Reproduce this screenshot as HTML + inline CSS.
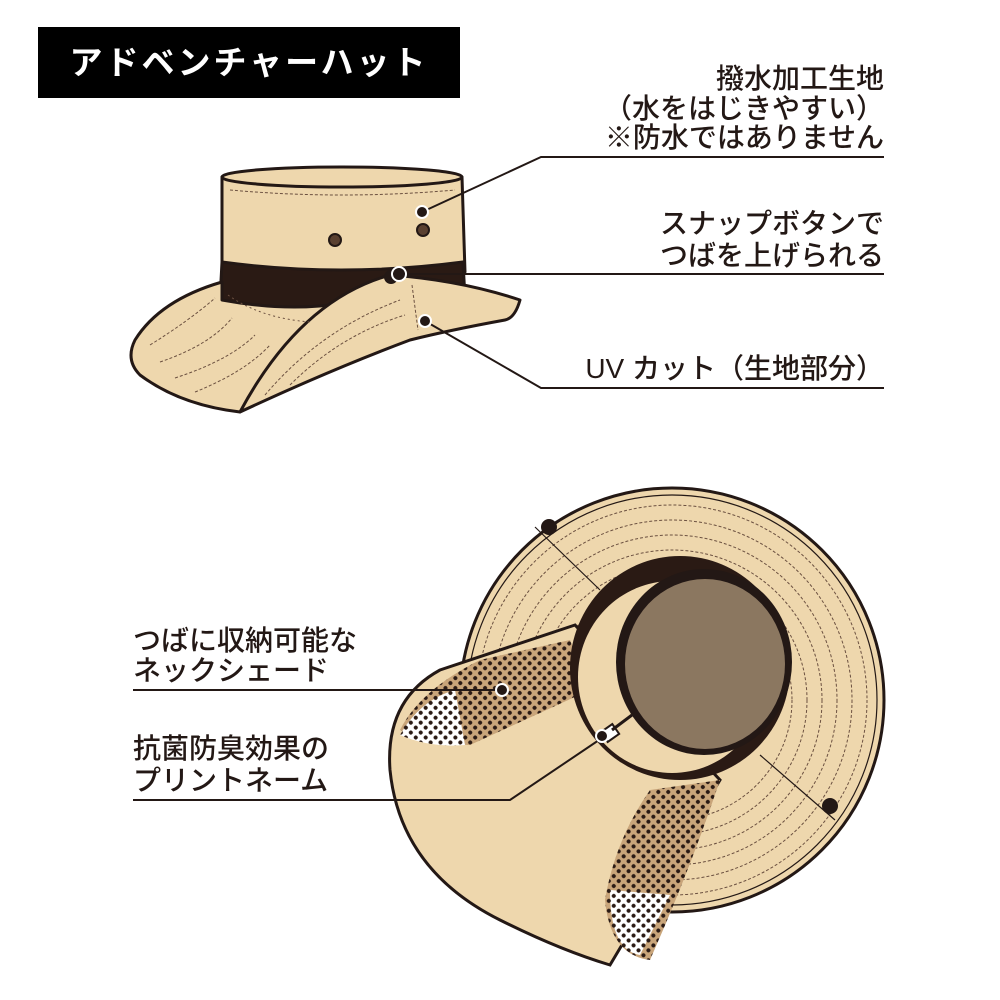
<!DOCTYPE html>
<html><head><meta charset="utf-8"><style>
html,body{margin:0;padding:0;background:#fff;}
svg{display:block}
text{font-family:"Liberation Sans","Noto Sans CJK JP",sans-serif;fill:#231815;font-weight:500;}
</style></head><body>
<svg width="1000" height="1000" viewBox="0 0 1000 1000" xmlns="http://www.w3.org/2000/svg">
<defs>
<pattern id="dots" width="7" height="7" patternUnits="userSpaceOnUse" patternTransform="rotate(45)">
<rect width="7" height="7" fill="#c9a57a"/>
<circle cx="3.5" cy="3.5" r="2" fill="#2a1a14"/>
</pattern>
<pattern id="dotsw" width="7" height="7" patternUnits="userSpaceOnUse" patternTransform="rotate(45)">
<rect width="7" height="7" fill="#fff"/>
<circle cx="3.5" cy="3.5" r="2" fill="#2a1a14"/>
</pattern>
</defs>
<rect x="38" y="27" width="422" height="71" fill="#000"/>
<text x="249" y="74" text-anchor="middle" font-size="33" letter-spacing="3" style="fill:#fff;font-weight:bold">アドベンチャーハット</text>

<g font-size="28" text-anchor="end">
<text x="884" y="88">撥水加工生地</text>
<text x="884" y="118">（水をはじきやすい）</text>
<text x="884" y="147">※防水ではありません</text>
<text x="884" y="233">スナップボタンで</text>
<text x="884" y="265">つばを上げられる</text>
<text x="884" y="378">UV カット（生地部分）</text>
</g>
<g font-size="28">
<text x="133" y="650">つばに収納可能な</text>
<text x="133" y="680">ネックシェード</text>
<text x="133" y="758">抗菌防臭効果の</text>
<text x="133" y="790">プリントネーム</text>
</g>

<!-- top hat -->
<g stroke="#231815" stroke-width="3" stroke-linejoin="round">
<path d="M222 177 Q340 160 462 177 L465 272 Q340 300 222 285 Z" fill="#eed7ad"/>
<ellipse cx="342" cy="177" rx="120" ry="10" fill="#eed7ad"/>
<path d="M222 262 Q340 278 463 262 L465 298 Q340 320 220 300 Z" fill="#2a1a14"/>
<path d="M222 282 Q160 300 135 340 Q125 360 140 375 Q180 405 240 412 L390 290 Q320 318 222 300 Z" fill="#eed7ad"/>
<path d="M240 412 Q300 300 390 275 Q460 280 520 300 Q515 318 505 320 Q450 330 410 340 Q330 370 240 412 Z" fill="#eed7ad"/>
</g>
<g fill="none" stroke="#6b5040" stroke-width="1" stroke-dasharray="3 2">
<path d="M230 190 Q342 200 455 190"/>
<path d="M150 345 Q190 320 215 298"/><path d="M160 362 Q210 345 232 318"/><path d="M175 378 Q230 360 255 335"/><path d="M195 392 Q245 372 270 345"/>
<path d="M228 295 Q260 318 310 322" stroke-dasharray="2 3"/>
<path d="M412 285 L418 330"/>
<path d="M265 395 Q320 330 400 300"/><path d="M290 385 Q340 335 405 315"/>
</g>
<circle cx="335" cy="240" r="6" fill="#5a4030" stroke="#231815" stroke-width="2"/>
<circle cx="423" cy="230" r="6" fill="#5a4030" stroke="#231815" stroke-width="2"/>
<circle cx="391" cy="277" r="7" fill="#231815"/>
<g stroke="#231815" stroke-width="2" fill="none">
<polyline points="422,212 541,157 884,157"/>
<polyline points="399,274 884,274"/>
<polyline points="425,321 541,388 884,388"/>
</g>
<g fill="#231815" stroke="#fff" stroke-width="2">
<circle cx="422" cy="212" r="6"/><circle cx="399" cy="274" r="7"/><circle cx="425" cy="321" r="6"/>
</g>

<!-- bottom hat -->
<g stroke="#231815" stroke-width="3">
<circle cx="672" cy="700" r="212" fill="#eed7ad"/>
</g>
<g fill="none" stroke="#6b5040" stroke-width="1" stroke-dasharray="3 2">
<circle cx="672" cy="700" r="195"/><circle cx="672" cy="700" r="180"/><circle cx="672" cy="700" r="165"/>
<circle cx="672" cy="700" r="150"/><circle cx="672" cy="700" r="135"/><circle cx="672" cy="700" r="120"/>
</g>
<g stroke="#231815" stroke-width="1.2" fill="none">
<circle cx="672" cy="700" r="205"/>
<line x1="535" y1="527" x2="600" y2="590"/><line x1="760" y1="755" x2="835" y2="820"/>
</g>
<circle cx="549" cy="527" r="8" fill="#231815"/>
<circle cx="830" cy="806" r="8" fill="#231815"/>
<!-- neck shade -->
<path d="M575 625 L440 670 Q385 700 390 770 Q400 870 500 920 Q560 950 610 965 L720 780 Z" fill="#eed7ad" stroke="#231815" stroke-width="3"/>
<path d="M570 640 L480 660 Q420 690 400 730 Q430 745 470 745 L590 690 Z" fill="url(#dots)"/>
<path d="M400 735 Q420 700 455 690 L465 745 Q430 748 400 735 Z" fill="url(#dotsw)"/>
<path d="M650 790 L720 780 Q690 870 650 960 Q610 955 605 900 Q615 840 650 790 Z" fill="url(#dots)"/>
<path d="M610 890 L670 895 L640 955 Q610 950 610 890 Z" fill="url(#dotsw)"/>
<!-- crown -->
<ellipse cx="680" cy="668" rx="110" ry="112" fill="#2a1a14"/>
<ellipse cx="672" cy="677" rx="94" ry="96" fill="#eed7ad"/>
<ellipse cx="704" cy="662" rx="88" ry="93" fill="#231815"/>
<ellipse cx="705" cy="664" rx="80" ry="85" fill="#8b7760"/>
<rect x="603" y="727" width="14" height="12" fill="#fff" stroke="#231815" stroke-width="2" transform="rotate(-35 610 733)"/>
<line x1="612" y1="730" x2="632" y2="715" stroke="#231815" stroke-width="3"/>
<g stroke="#231815" stroke-width="2" fill="none">
<polyline points="502,690 133,690"/>
<polyline points="602,738 510,800 133,800"/>
</g>
<g fill="#231815" stroke="#fff" stroke-width="2">
<circle cx="502" cy="690" r="6"/><circle cx="602" cy="736" r="6"/>
</g>
</svg>
</body></html>
